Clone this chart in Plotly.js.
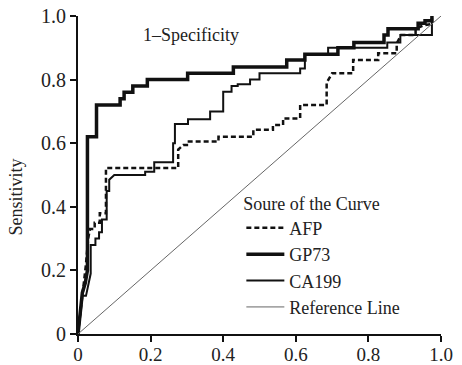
<!DOCTYPE html>
<html>
<head>
<meta charset="utf-8">
<script src="https://cdn.plot.ly/plotly-3.0.1.min.js"></script>
<style>html,body{margin:0;padding:0;background:#fff;}#chart{width:462px;height:365px;}</style>
</head>
<body>
<div id="chart"></div>
<script>
// ROC curve data (1-Specificity on x, Sensitivity on y)
const afpX = [0,0.006,0.012,0.016,0.022,0.028,0.033,0.046,0.046,0.06,0.06,0.077,0.077,0.276,0.276,0.29,0.30,0.30,0.387,0.387,0.483,0.483,0.537,0.537,0.565,0.565,0.612,0.612,0.685,0.685,0.70,0.758,0.758,0.827,0.827,0.878,0.878,0.89,0.93,0.93,0.95,0.975,0.975];
const afpY = [0,0.06,0.10,0.15,0.22,0.30,0.33,0.33,0.35,0.35,0.38,0.38,0.522,0.522,0.58,0.594,0.594,0.605,0.605,0.62,0.62,0.642,0.642,0.657,0.657,0.678,0.678,0.72,0.72,0.79,0.82,0.82,0.862,0.862,0.883,0.883,0.914,0.94,0.94,0.96,0.97,0.975,1.0];

const gp73X = [0,0.006,0.012,0.02,0.026,0.026,0.051,0.051,0.116,0.116,0.127,0.127,0.151,0.151,0.191,0.191,0.302,0.302,0.428,0.428,0.575,0.575,0.625,0.625,0.716,0.716,0.76,0.76,0.843,0.843,0.854,0.854,0.937,0.937,0.956,0.956,0.975,0.975];
const gp73Y = [0,0.08,0.13,0.16,0.2,0.62,0.62,0.72,0.72,0.74,0.74,0.76,0.76,0.78,0.78,0.80,0.80,0.82,0.82,0.84,0.84,0.862,0.862,0.88,0.88,0.90,0.90,0.917,0.917,0.94,0.94,0.96,0.96,0.977,0.977,0.985,0.985,1.0];

const ca199X = [0,0.005,0.008,0.012,0.022,0.035,0.035,0.048,0.048,0.058,0.058,0.066,0.066,0.079,0.079,0.086,0.086,0.10,0.185,0.185,0.21,0.21,0.262,0.262,0.267,0.267,0.303,0.303,0.364,0.364,0.40,0.40,0.423,0.423,0.44,0.44,0.474,0.474,0.50,0.50,0.612,0.612,0.625,0.625,0.689,0.689,0.852,0.852,0.888,0.888,0.975,0.975];
const ca199Y = [0,0.05,0.10,0.12,0.12,0.19,0.28,0.28,0.30,0.30,0.32,0.32,0.36,0.36,0.45,0.45,0.485,0.50,0.50,0.51,0.51,0.54,0.54,0.60,0.60,0.66,0.66,0.675,0.675,0.70,0.70,0.762,0.762,0.78,0.78,0.785,0.785,0.80,0.80,0.82,0.82,0.835,0.835,0.877,0.877,0.90,0.90,0.917,0.917,0.94,0.94,1.0];

const refX = [0,1];
const refY = [0,1];

const tickVals = [0,0.2,0.4,0.6,0.8,1.0];
const tickText = ['0','0.2','0.4','0.6','0.8','1.0'];

const seriesNames = ['AFP','GP73','CA199','Reference Line'];

const serif = 'Liberation Serif, Times New Roman, serif';

const traces = [
  {x: afpX, y: afpY, name: seriesNames[0], mode: 'lines', line: {color: '#111', width: 2.5, dash: '5px,3px'}},
  {x: gp73X, y: gp73Y, name: seriesNames[1], mode: 'lines', line: {color: '#111', width: 3.5}},
  {x: ca199X, y: ca199Y, name: seriesNames[2], mode: 'lines', line: {color: '#111', width: 2}},
  {x: refX, y: refY, name: seriesNames[3], mode: 'lines', line: {color: '#666', width: 1}}
];

const axisCommon = {
  range: [0, 1],
  tickvals: tickVals,
  ticktext: tickText,
  showgrid: false,
  zeroline: false,
  showline: true,
  linecolor: '#111',
  linewidth: 2,
  ticks: 'outside',
  ticklen: 6,
  tickwidth: 2,
  tickcolor: '#111',
  tickfont: {family: serif, size: 20, color: '#222'}
};

const layout = {
  width: 462,
  height: 365,
  margin: {l: 78, r: 21, t: 16, b: 31},
  paper_bgcolor: '#fff',
  plot_bgcolor: '#fff',
  showlegend: true,
  xaxis: Object.assign({}, axisCommon, {tickfont: {family: serif, size: 19, color: '#222'}, ticklabelstandoff: -4}),
  yaxis: Object.assign({}, axisCommon),
  legend: {
    x: 0.45, y: 0.465, xanchor: 'left', yanchor: 'top',
    bgcolor: 'rgba(0,0,0,0)',
    font: {family: serif, size: 18, color: '#222'},
    title: {text: 'Soure of the Curve', font: {family: serif, size: 18, color: '#222'}},
    itemwidth: 38,
    tracegroupgap: 0
  },
  annotations: [
    {text: '1–Specificity', xref: 'paper', yref: 'paper', x: 0.31, y: 0.94, xanchor: 'center', yanchor: 'middle', showarrow: false, font: {family: serif, size: 18, color: '#222'}},
    {text: 'Sensitivity', xref: 'paper', yref: 'paper', x: -0.17, y: 0.43, xanchor: 'center', yanchor: 'middle', textangle: -90, showarrow: false, font: {family: serif, size: 18, color: '#222'}}
  ]
};

Plotly.newPlot('chart', traces, layout, {staticPlot: true, displayModeBar: false});
</script>
</body>
</html>
